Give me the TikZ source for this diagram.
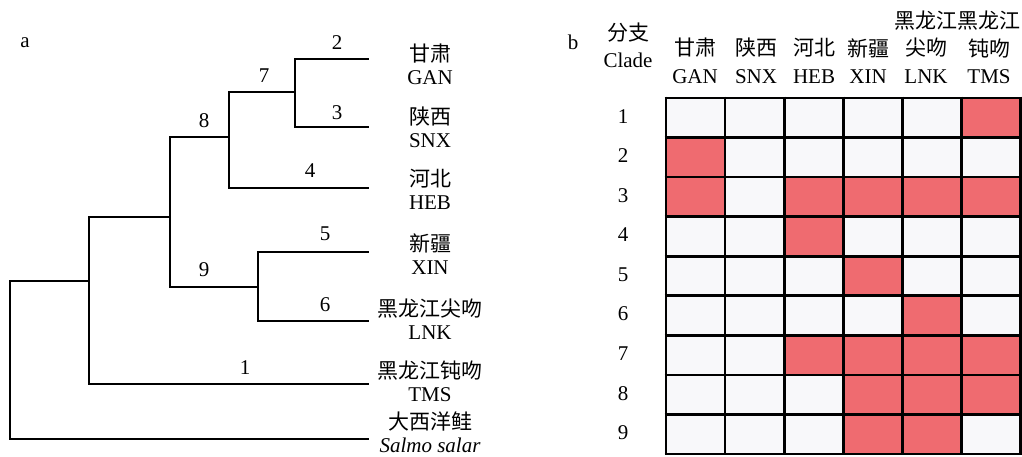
\documentclass[tikz,border=0pt]{standalone}
\usepackage{fontspec}
\setmainfont{Liberation Serif}
\newfontfamily\cjk{Noto Sans CJK SC}
\definecolor{cellred}{RGB}{239,107,112}
\definecolor{cellgray}{RGB}{248,248,250}
\begin{document}
\begin{tikzpicture}[x=1pt,y=-1pt,
  every node/.style={inner sep=0pt, font=\fontsize{21}{23}\selectfont},
  branch/.style={line width=2.7pt, line cap=rect},
  leaf/.style={align=center, anchor=south},
  blab/.style={},
  gridline/.style={line width=2.6pt}]
\useasboundingbox (0,0) rectangle (1022,456);
% panel a
\node (pa) at (25,43) {a};
% tree coordinates
\coordinate (root) at (10,360);
\coordinate (cB) at (89,281);
\coordinate (cA) at (170,217);
\coordinate (c8) at (229,137);
\coordinate (c7) at (295,92);
\coordinate (c9) at (258,287);
\coordinate (eGAN) at (368,59);
\coordinate (eSNX) at (368,127);
\coordinate (eHEB) at (368,188);
\coordinate (eXIN) at (368,252);
\coordinate (eLNK) at (368,321);
\coordinate (eTMS) at (368,384);
\coordinate (eSAL) at (368,439);
\draw[branch] (root) |- (cB);
\draw[branch] (root) |- (eSAL);
\draw[branch] (cB) |- (cA);
\draw[branch] (cB) |- (eTMS);
\draw[branch] (cA) |- (c8);
\draw[branch] (cA) |- (c9);
\draw[branch] (c8) |- (c7);
\draw[branch] (c8) |- (eHEB);
\draw[branch] (c7) |- (eGAN);
\draw[branch] (c7) |- (eSNX);
\draw[branch] (c9) |- (eXIN);
\draw[branch] (c9) |- (eLNK);
% branch labels
\node[blab] (b2) at (337,43) {2};
\node[blab] (b3) at (337,113) {3};
\node[blab] (b7) at (264,76) {7};
\node[blab] (b8) at (204,121) {8};
\node[blab] (b4) at (310,171) {4};
\node[blab] (b5) at (325,234) {5};
\node[blab] (b9) at (204,270) {9};
\node[blab] (b6) at (325,305) {6};
\node[blab] (b1) at (245,368) {1};
% leaf labels
\node[leaf] (lGAN) at (430,85) {{\cjk 甘肃}\\GAN};
\node[leaf] (lSNX) at (430,148) {{\cjk 陕西}\\SNX};
\node[leaf] (lHEB) at (430,210) {{\cjk 河北}\\HEB};
\node[leaf] (lXIN) at (430,275) {{\cjk 新疆}\\XIN};
\node[leaf] (lLNK) at (430,340) {{\cjk 黑龙江尖吻}\\LNK};
\node[leaf] (lTMS) at (430,402) {{\cjk 黑龙江钝吻}\\TMS};
\node[leaf] (lSAL) at (430,453) {{\cjk 大西洋鲑}\\\textit{Salmo salar}};
% panel b
\node (pb) at (573,42) {b};
\node (h1) at (628,33) {\cjk 分支};
\node (h2) at (628,60) {Clade};
\node (gGANc) at (695,48) {\cjk 甘肃};
\node (gSNXc) at (756,48) {\cjk 陕西};
\node (gHEBc) at (814,48) {\cjk 河北};
\node (gXINc) at (868,48) {\cjk 新疆};
\node (gLNKc) at (926,48) {\cjk 尖吻};
\node (gTMSc) at (989,48) {\cjk 钝吻};
\node (gLNKt) at (926,21) {\cjk 黑龙江};
\node (gTMSt) at (989,21) {\cjk 黑龙江};
\node (gGAN) at (695,77) {GAN};
\node (gSNX) at (756,77) {SNX};
\node (gHEB) at (814,77) {HEB};
\node (gXIN) at (868,77) {XIN};
\node (gLNK) at (926,77) {LNK};
\node (gTMS) at (989,77) {TMS};
% grid
\def\gx{666}\def\gy{98}\def\cw{59.1}\def\rh{39.55}
\foreach \i in {1,...,9}{
  \foreach \j in {1,...,6}{
    \fill[cellgray] ({\gx+(\j-1)*\cw},{\gy+(\i-1)*\rh}) rectangle ({\gx+\j*\cw},{\gy+\i*\rh});
  }
  \node (r\i) at (623,{\gy+(\i-0.5)*\rh-1.5}) {\i};
}
\foreach \i/\j in {1/6,2/1,3/1,3/3,3/4,3/5,3/6,4/3,5/4,6/5,7/3,7/4,7/5,7/6,8/4,8/5,8/6,9/4,9/5}{
  \fill[cellred] ({\gx+(\j-1)*\cw},{\gy+(\i-1)*\rh}) rectangle ({\gx+\j*\cw},{\gy+\i*\rh});
}
\foreach \i in {0,...,9}{
  \draw[gridline] ({\gx-1.3},{\gy+\i*\rh}) -- ({\gx+6*\cw+1.3},{\gy+\i*\rh});
}
\foreach \j in {0,...,6}{
  \draw[gridline] ({\gx+\j*\cw},{\gy-1.3}) -- ({\gx+\j*\cw},{\gy+9*\rh+1.3});
}
\end{tikzpicture}
\end{document}
